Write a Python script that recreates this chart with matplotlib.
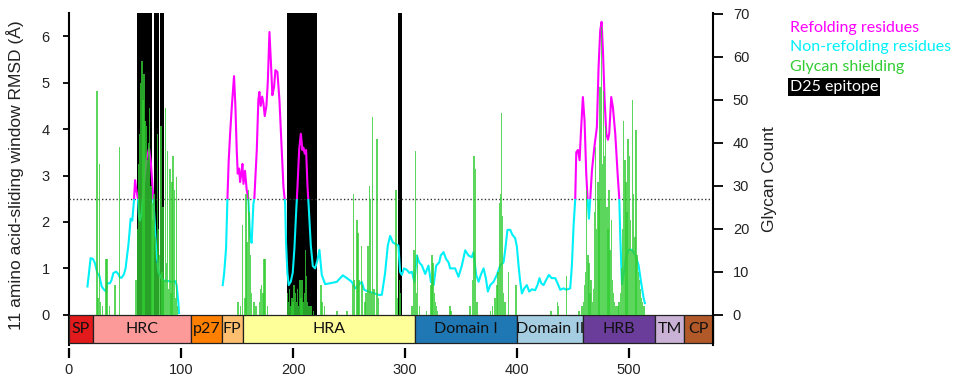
import matplotlib
matplotlib.use('Agg')
import matplotlib.pyplot as plt
import numpy as np
from matplotlib.patches import Rectangle

# ---------------- data ----------------
rmsd_res = [16.5, 19.3, 21.5, 23.2, 25.3, 27, 29.2, 31, 33, 34.2, 36.6, 38, 39.6, 42, 44, 45.5, 47, 49,
            50.5, 51.5, 53, 53.9, 55, 56.5, 58, 59, 60, 61.6, 62.5, 63.4, 64.9, 66.5, 68, 69.5, 71.5, 73,
            75, 76.5, 77.7, 79.8, 81, 82.8, 84, 87, 90, 92, 94.6, 96, 97.6, 98.2,
            137.2, 138.5, 140.2, 141.4, 142.5, 143.8, 145.5, 147.3, 148.5, 149.7, 150.6, 151.8, 152.7,
            153.6, 154.8, 155.7, 157.1, 158.6, 160.1, 161.6, 163, 164.6, 165.4, 167.6, 169, 169.9, 171.1,
            172.4, 173.5, 174.7, 176.2, 177.4, 178.9, 180.4, 181.5, 183, 184.2, 186, 187.8, 189.9, 191.4,
            192.9, 193.7, 194.9, 196.1, 197.9, 199.7, 201.2, 202.7, 203.9, 205.4, 206.9, 208.3, 209.2,
            210.4, 211.6, 212.8, 214, 215.8, 217.6, 219.6, 221.7, 223.5, 225.6, 228.6, 233, 239, 242,
            244.4, 248, 252.4, 255.4, 258.3, 261.3, 263.4, 267.3, 271.7, 276.2, 279.2, 282.1, 284.5,
            286.6, 289, 291, 294, 295.5, 297, 299, 301.4, 303.9, 306, 308.3, 310.4, 312.5, 315, 317.9,
            320.8, 323, 325.4, 327.7, 330.4, 331.8, 334.2, 336.6, 338.7, 340.2, 344.6, 347.6, 350.6,
            353.6, 356.5, 359.5, 361, 363.4, 365.5, 367.5, 370, 372, 373.8, 375.9, 378.8, 381.9, 384.8,
            387.8, 389.3, 391.3, 393.8, 395.8, 398.2, 399.7, 401.2, 402.7, 404.2, 406.3, 408.6, 410.7,
            413.1, 416, 418.1, 419.9, 421.4, 423.5, 425.8, 428.3, 430.7, 433.9, 436, 438.4, 441.4, 443.8,
            447.3, 448.8, 450.3, 451.8, 452.7, 454.2, 455.7, 456.8, 458.6, 460.1, 461.6, 462.8, 464,
            465.2, 466.7, 468.8, 471.1, 472.6, 474.1, 475.3, 476.5, 478, 479.5, 481, 482.1, 483.9, 485.4,
            487.5, 489.6, 491.1, 492, 493.5, 495, 497, 499.4, 502.4, 505.4, 508.3, 510.4, 512.8, 514]
rmsd_val = [0.61, 1.22, 1.2, 1.11, 0.9, 0.85, 0.61, 0.55, 0.5, 0.68, 0.68, 0.75, 0.9, 0.93, 0.88, 0.8, 0.8, 0.87,
            1.0, 1.2, 1.5, 1.74, 2.07, 2.03, 2.47, 2.9, 2.7, 2.49, 2.1, 2.03, 2.2, 2.7, 3.1, 3.4, 3.58, 3.3,
            2.6, 2.0, 1.44, 0.92, 0.86, 0.78, 0.75, 0.72, 0.73, 0.7, 0.73, 0.65, 0.26, 0.04,
            0.64, 0.9, 1.44, 2.5, 3.3, 3.9, 4.55, 5.14, 4.5, 3.55, 3.04, 3.15, 2.86,
            3.0, 3.25, 2.82, 3.1, 2.69, 2.5, 1.67, 1.55, 2.4, 2.5, 3.55, 4.63, 4.8, 4.5,
            4.7, 4.56, 4.28, 4.5, 5.0, 6.09, 5.34, 4.73, 4.9, 5.27, 5.23, 4.63, 3.55, 2.75,
            2.4, 1.55, 0.91, 0.64, 0.71, 0.91, 1.44, 2.2, 2.75, 3.55, 3.9, 3.55, 3.6,
            3.47, 3.55, 2.8, 2.3, 1.5, 1.05, 1.0, 1.17, 1.4, 0.86, 0.66, 0.68, 0.71, 0.79,
            0.85, 0.79, 0.71, 0.57, 0.64, 0.71, 0.54, 0.5, 0.47, 0.43, 0.43, 0.9, 1.49,
            1.7, 1.56, 1.53, 1.49, 0.92, 0.86, 1.0, 0.97, 0.9, 0.93, 0.71, 1.28, 1.13, 1.06, 0.88,
            1.06, 0.71, 0.64, 1.06, 1.13, 1.28, 1.35, 1.2, 1.13, 1.0, 1.0, 0.82, 1.06,
            1.39, 1.28, 1.24, 1.35, 0.86, 0.71, 0.86, 1.0, 0.79, 0.5, 0.64, 0.71, 0.86, 1.06,
            1.13, 1.4, 1.83, 1.83, 1.72, 1.65, 1.47, 1.06, 0.71, 0.46, 0.57, 0.64, 0.5,
            0.55, 0.53, 0.64, 0.79, 0.68, 0.64, 0.75, 0.86, 0.79, 0.79, 0.68, 0.54, 0.57, 0.54,
            0.57, 1.06, 1.92, 2.5, 3.5, 3.55, 3.33, 3.9, 4.69, 4.18, 3.04, 2.5, 2.07,
            2.5, 3.11, 3.6, 4.04, 5.33, 6.13, 6.31, 5.7, 4.63, 3.9, 3.77, 3.9, 4.69, 4.47,
            3.9, 3.04, 2.5, 1.67, 0.66, 0.87, 1.22, 1.4, 1.4, 1.29, 1.07, 0.72, 0.36, 0.25]

glycan_res = [25, 26, 27, 28, 30, 33, 34, 36, 41, 45,
              60, 61, 62, 63, 64, 65, 66, 67, 68, 69, 70, 71, 72, 73, 74, 75, 76, 77, 78, 79,
              80, 81, 82, 83, 84, 85, 86, 87, 88, 89, 90, 91, 92, 93, 94, 95, 96, 97,
              151, 153, 155, 157, 158, 159, 160, 161, 162, 163, 165, 167, 170, 171, 172, 173, 174, 175, 177,
              195, 196, 197, 198, 199, 200, 201, 202, 203, 204, 205, 206, 207, 208, 209, 210, 211, 212,
              213, 214, 216, 218, 225, 226, 228,
              239, 248, 253, 254, 255, 257, 258, 259, 261, 262, 264, 265, 267, 268, 269, 270, 271, 272, 275, 276,
              292, 293, 295, 296, 306, 308, 309, 310, 311, 313, 319, 323, 324, 325, 326, 327, 328, 329,
              340, 341, 358, 360, 361, 362, 363, 364, 376, 378, 380, 382, 383, 384, 385, 386, 387, 388, 389,
              392, 399, 430, 436, 437, 444,
              455, 458, 459, 460, 461, 462, 463, 464, 465, 466, 467, 468, 469, 470, 471, 472, 473, 474, 475,
              476, 477, 478, 479, 480, 481, 482, 483, 484, 485, 486, 487, 488, 490, 491, 492, 493, 494, 495,
              496, 497, 498, 499, 500, 501, 502, 503, 504, 505, 506, 507, 508, 509, 510, 511, 512, 513]
glycan_count = [52, 4, 35, 3, 2, 13, 13, 2, 7, 39,
                8, 20, 35, 42, 54, 59, 50, 56, 45, 44, 36, 40, 48, 30, 26, 22, 28, 18, 12, 42,
                20, 14, 44, 10, 25, 8, 48, 12, 38, 6, 34, 5, 31, 37, 29, 4, 32, 2,
                3, 2, 21, 4, 28, 17, 29, 24, 14, 5, 3, 2, 3, 6, 7, 5, 13, 13, 2,
                5, 3, 6, 2, 4, 3, 7, 5, 3, 6, 2, 8, 4, 8, 3, 5, 15, 9,
                3, 2, 2, 1, 7, 3, 2,
                1, 1, 7, 28, 8, 22, 19, 8, 16, 7, 3, 5, 16, 30, 27, 5, 46, 6, 41, 4,
                29, 4, 8, 5, 2, 15, 38, 5, 14, 2, 1, 7, 14, 12, 5, 3, 2, 1,
                2, 1, 2, 8, 37, 37, 34, 3, 1, 2, 4, 7, 10, 26, 28, 47, 23, 5, 3,
                10, 7, 1, 3, 2, 9,
                1, 2, 3, 7, 10, 29, 14, 12, 5, 8, 3, 6, 24, 39, 20, 31, 27, 53, 67,
                35, 52, 37, 44, 25, 20, 29, 15, 22, 8, 5, 3, 2, 2, 3, 5, 11, 20, 45,
                36, 31, 24, 41, 37, 22, 15, 50, 28, 18, 43, 14, 10, 8, 6, 4, 3, 2]

epitope_res = (list(range(61, 75)) + list(range(76, 81)) + list(range(82, 85)) +
               list(range(195, 222)) + list(range(294, 298)))

domain_names = ['SP', 'HRC', 'p27', 'FP', 'HRA', 'Domain I', 'Domain II', 'HRB', 'TM', 'CP']
domain_start = [0, 21, 109, 136.5, 155, 308.5, 399.5, 459, 523, 549]
domain_end = [21, 109, 136.5, 155, 308.5, 399.5, 459, 523, 549, 575]
domain_colors = ['#e31a1c', '#fb9a99', '#ff7f00', '#fdbf6f', '#ffff99', '#1f78b4',
                 '#a6cee3', '#6a3d9a', '#cab2d6', '#b15928']

threshold = 2.5
left_ticks = [0, 1, 2, 3, 4, 5, 6]
right_ticks = [0, 10, 20, 30, 40, 50, 60, 70]
x_ticks = [0, 100, 200, 300, 400, 500]

# ---------------- style ----------------
plt.rcParams['font.family'] = ['Liberation Sans', 'DejaVu Sans']
MAG = '#ff00ff'
CYAN = '#00f0f8'
GREEN = '#33cc33'
LABFONT = ['Lato', 'DejaVu Sans']

fig = plt.figure(figsize=(9.77, 3.79), dpi=100)
ax1 = fig.add_axes([0.0706, 0.0897, 0.6595, 0.876])
ax2 = ax1.twinx()

XMAX = 575
L_YLIM = (-0.65, 6.5)
R_YLIM = (-7.0, 70.2)
ax1.set_xlim(0, XMAX)
ax1.set_ylim(*L_YLIM)
ax2.set_ylim(*R_YLIM)

# D25 epitope black bars (contiguous runs), on the left axes (below everything)
runs = []
er = sorted(epitope_res)
s = er[0]
p = er[0]
for r in er[1:]:
    if r != p + 1:
        runs.append((s, p))
        s = r
    p = r
runs.append((s, p))
for a, b in runs:
    ax1.bar(a - 0.5, L_YLIM[1], width=(b - a + 1), bottom=0, align='edge',
            color='black', linewidth=0, zorder=1)

# RMSD line split into segments, coloured by threshold
xr = np.array(rmsd_res, dtype=float)
yr = np.array(rmsd_val, dtype=float)
breaks = np.where(np.diff(xr) > 20)[0] + 1
for xs, ys in zip(np.split(xr, breaks), np.split(yr, breaks)):
    lo, = ax1.plot(xs, ys, color=CYAN, lw=1.5, zorder=4, solid_joinstyle='round')
    clip_lo = Rectangle((-10, L_YLIM[0] - 1), XMAX + 20, threshold - L_YLIM[0] + 1,
                        transform=ax1.transData)
    lo.set_clip_path(clip_lo)
    hi, = ax1.plot(xs, ys, color=MAG, lw=1.5, zorder=4, solid_joinstyle='round')
    clip_hi = Rectangle((-10, threshold), XMAX + 20, 20, transform=ax1.transData)
    hi.set_clip_path(clip_hi)

ax1.axhline(threshold, color='#333333', lw=1.0, ls=(0, (1, 1.6)), zorder=3)

# domain bar
for i, (nm, a, b, c) in enumerate(zip(domain_names, domain_start, domain_end, domain_colors)):
    ax1.add_patch(Rectangle((a, -0.6), b - a, 0.6, facecolor=c, edgecolor='#222222',
                            lw=0.9, zorder=10 + 2 * i, clip_on=False))
    ax1.text((a + b) / 2, -0.3, nm, ha='center', va='center', fontsize=11.5,
             family=LABFONT, color='#111111', zorder=11 + 2 * i)

# glycan bars (right axes, drawn over the lines)
ax2.bar(glycan_res, glycan_count, width=1.3, color=GREEN, alpha=0.8,
        linewidth=0, zorder=2)

# spines / ticks
for sp in ['top', 'right', 'bottom']:
    ax1.spines[sp].set_visible(False)
for sp in ['top', 'left', 'bottom']:
    ax2.spines[sp].set_visible(False)
ax1.spines['left'].set_linewidth(1.5)
ax2.spines['right'].set_linewidth(1.5)
ax1.spines['bottom'].set_position(('outward', 2))

ax1.set_yticks(left_ticks)
ax2.set_yticks(right_ticks)
ax1.set_xticks(x_ticks)
ax1.tick_params(axis='y', direction='out', length=4, width=1.3, pad=10,
                labelsize=10.5, labelcolor='#222222')
ax2.tick_params(axis='y', direction='out', length=7, width=1.3, pad=7,
                labelsize=10.5, labelcolor='#222222')
ax1.tick_params(axis='x', direction='out', length=7, width=1.6, pad=4,
                labelsize=10.5, labelcolor='#222222')

ax1.set_ylabel('11 amino acid-sliding window RMSD (Å)', fontsize=12.5, color='#222222')
ax1.yaxis.set_label_coords(-0.07, 0.51)
ax2.set_ylabel('Glycan Count', fontsize=12.5, color='#222222')
ax2.yaxis.set_label_coords(1.076, 0.5)

# legend texts
H = 379.0
W = 977.0
fig.text(790 / W, 1 - 32 / H, 'Refolding residues', color=MAG, fontsize=11.5,
         family=LABFONT, va='baseline', ha='left')
fig.text(790 / W, 1 - 51 / H, 'Non-refolding residues', color=CYAN, fontsize=11.5,
         family=LABFONT, va='baseline', ha='left')
fig.text(790 / W, 1 - 71 / H, 'Glycan shielding', color=GREEN, fontsize=11.5,
         family=LABFONT, va='baseline', ha='left')
fig.text(790 / W, 1 - 91 / H, 'D25 epitope', color='white', fontsize=11.5,
         family=LABFONT, va='baseline', ha='left',
         bbox=dict(facecolor='black', edgecolor='none', pad=1.5))

fig.savefig('out.png', dpi=100, facecolor='white')
